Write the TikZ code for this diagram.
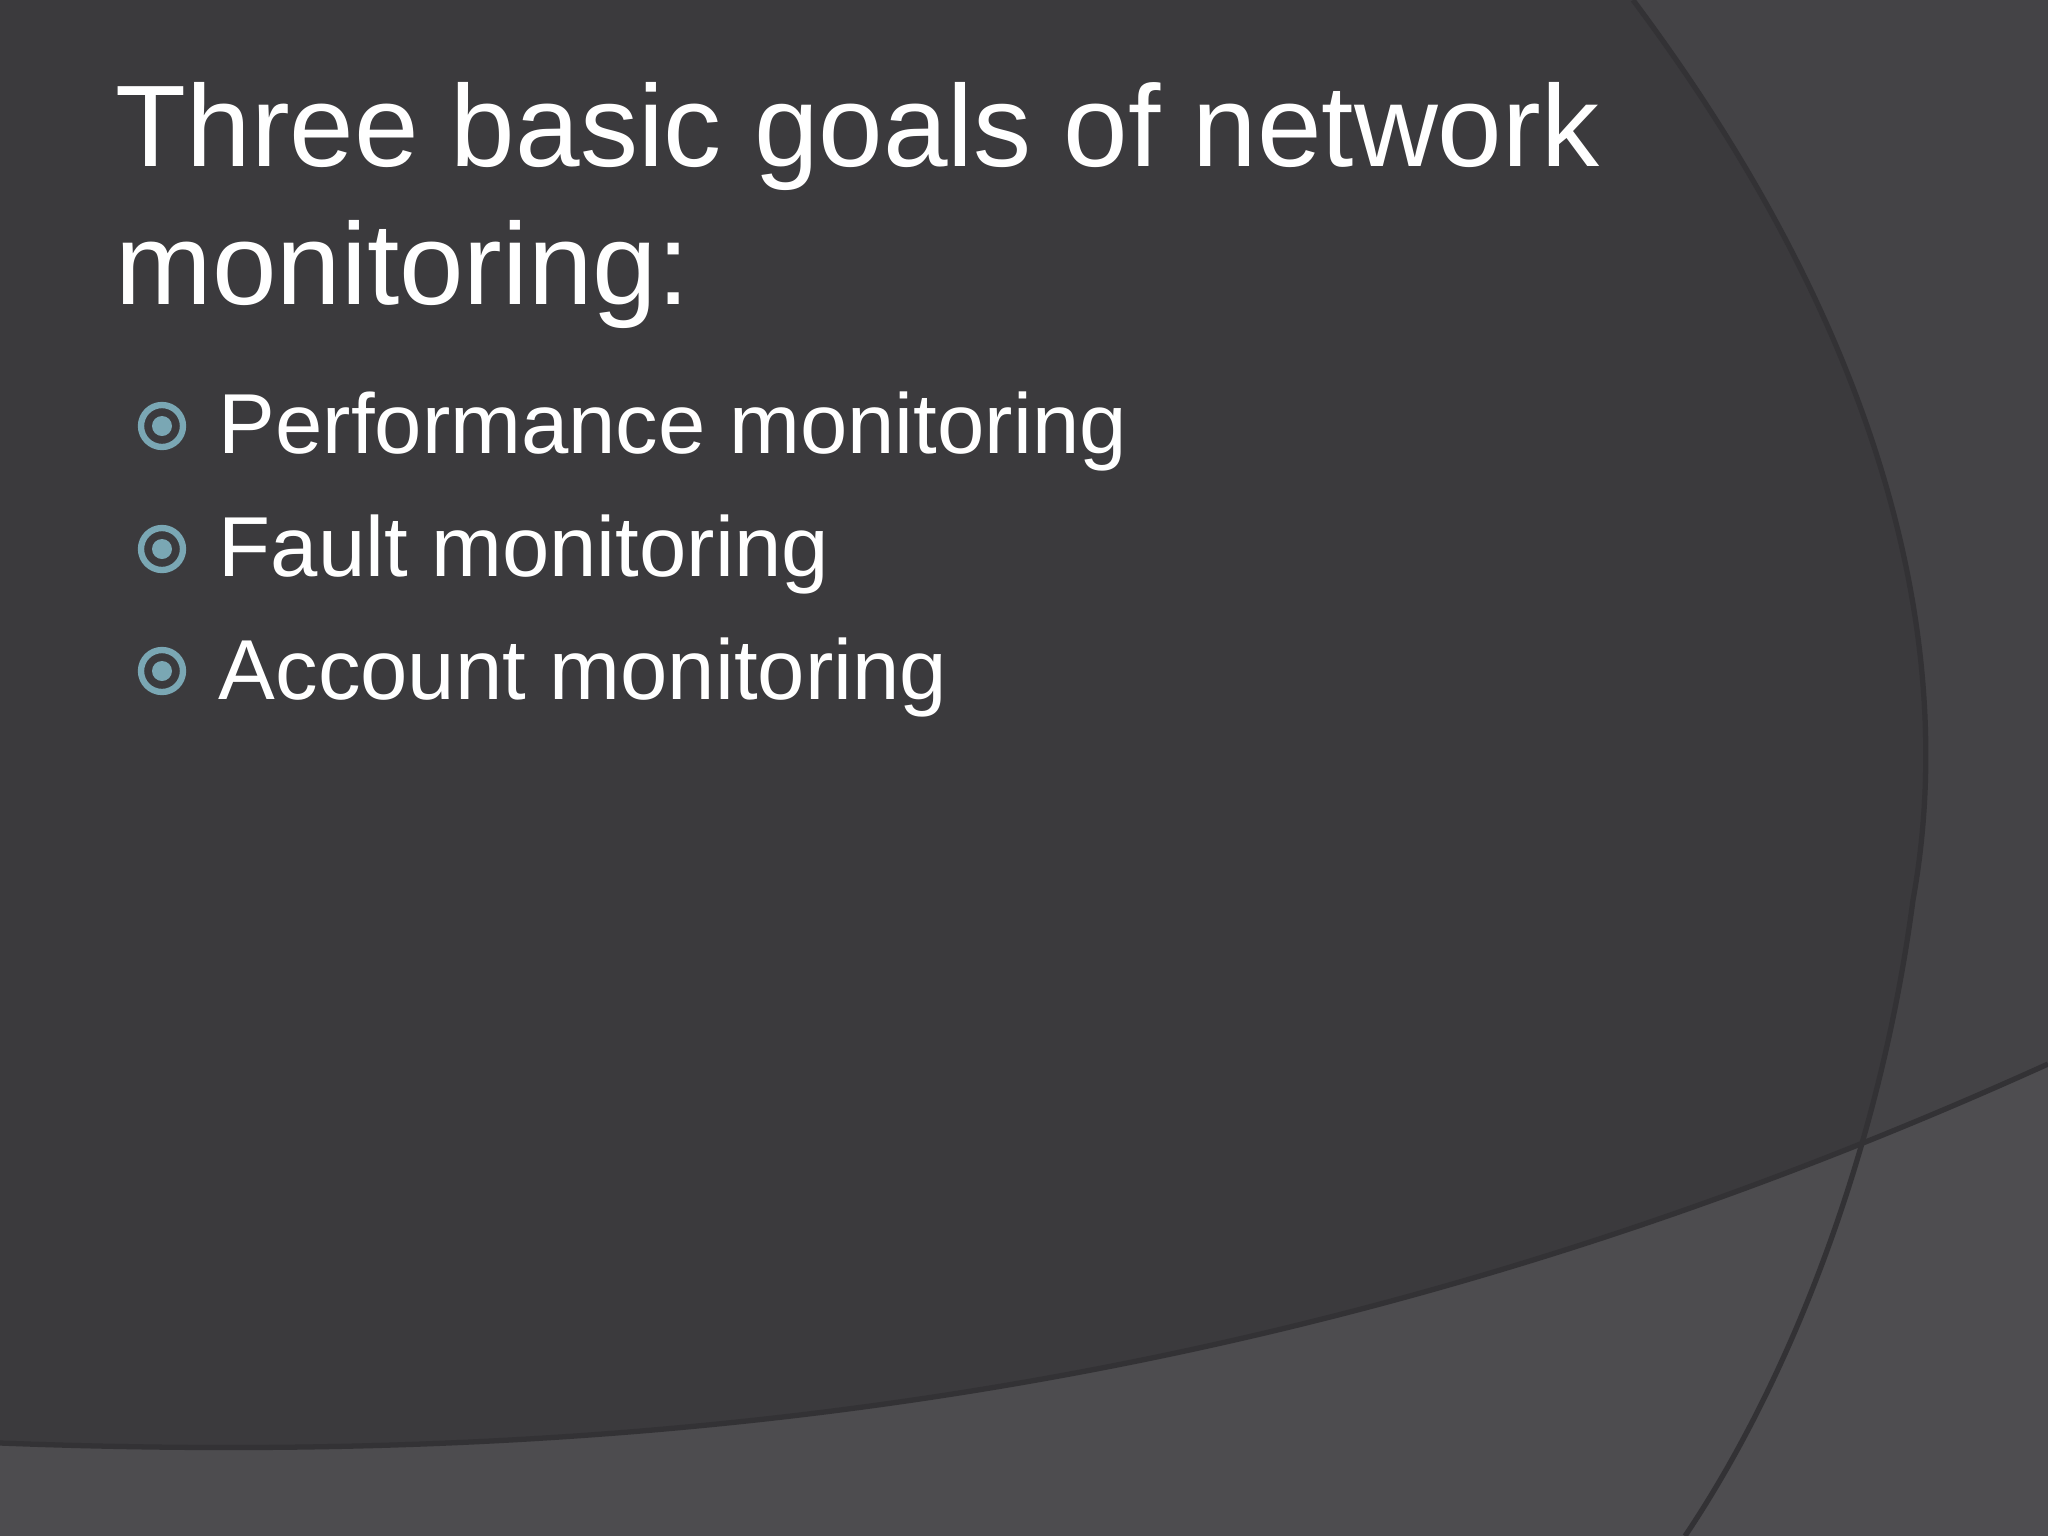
\documentclass[tikz,border=0pt]{standalone}
\usepackage{fontspec}
\setmainfont{Liberation Sans}
\definecolor{bgA}{HTML}{3B3A3D}
\definecolor{bgB}{HTML}{444346}
\definecolor{bgC}{HTML}{504F52}
\definecolor{edge}{HTML}{333235}
\definecolor{bul}{HTML}{7AA7B4}
\begin{document}
\begin{tikzpicture}[x=0.01cm,y=-0.01cm,
  title/.style={anchor=base west,text=white,font=\fontsize{33}{40}\selectfont,inner sep=0},
  item/.style={anchor=base west,text=white,font=\fontsize{24.2}{30}\selectfont,inner sep=0}]
\useasboundingbox (0,0) rectangle (2048,1536);
\fill[bgA] (0,0) rectangle (2048,1536);
% right region
\fill[bgB] (1633,0) .. controls (1880,330) and (1960,640) .. (1913,900) .. controls (1880,1150) and (1790,1380) .. (1685,1536) -- (2048,1536) -- (2048,0) -- cycle;
% bottom swoosh
\fill[bgC,opacity=0.9] (0,1443) .. controls (700,1470) and (1350,1380) .. (2048,1064) -- (2048,1536) -- (0,1536) -- cycle;
\draw[edge,line width=1.5pt] (1633,0) .. controls (1880,330) and (1960,640) .. (1913,900) .. controls (1880,1150) and (1790,1380) .. (1685,1536);
\draw[edge,line width=1.5pt] (0,1443) .. controls (700,1470) and (1350,1380) .. (2048,1064);
% text
\node[title] (t1) at (115,166) {Three basic goals of network};
\node[title] (t2) at (115,304) {monitoring:};
\foreach \y/\yc/\n/\txt in {453/426/a/Performance monitoring,576/549/b/Fault monitoring,699/671/c/Account monitoring}{
  \node[item] (i\n) at (218,\y) {\txt};
  \draw[bul,line width=1.8pt] (162,\yc) circle (21);
  \fill[bul] (162,\yc) circle (10);
}
\end{tikzpicture}
\end{document}
